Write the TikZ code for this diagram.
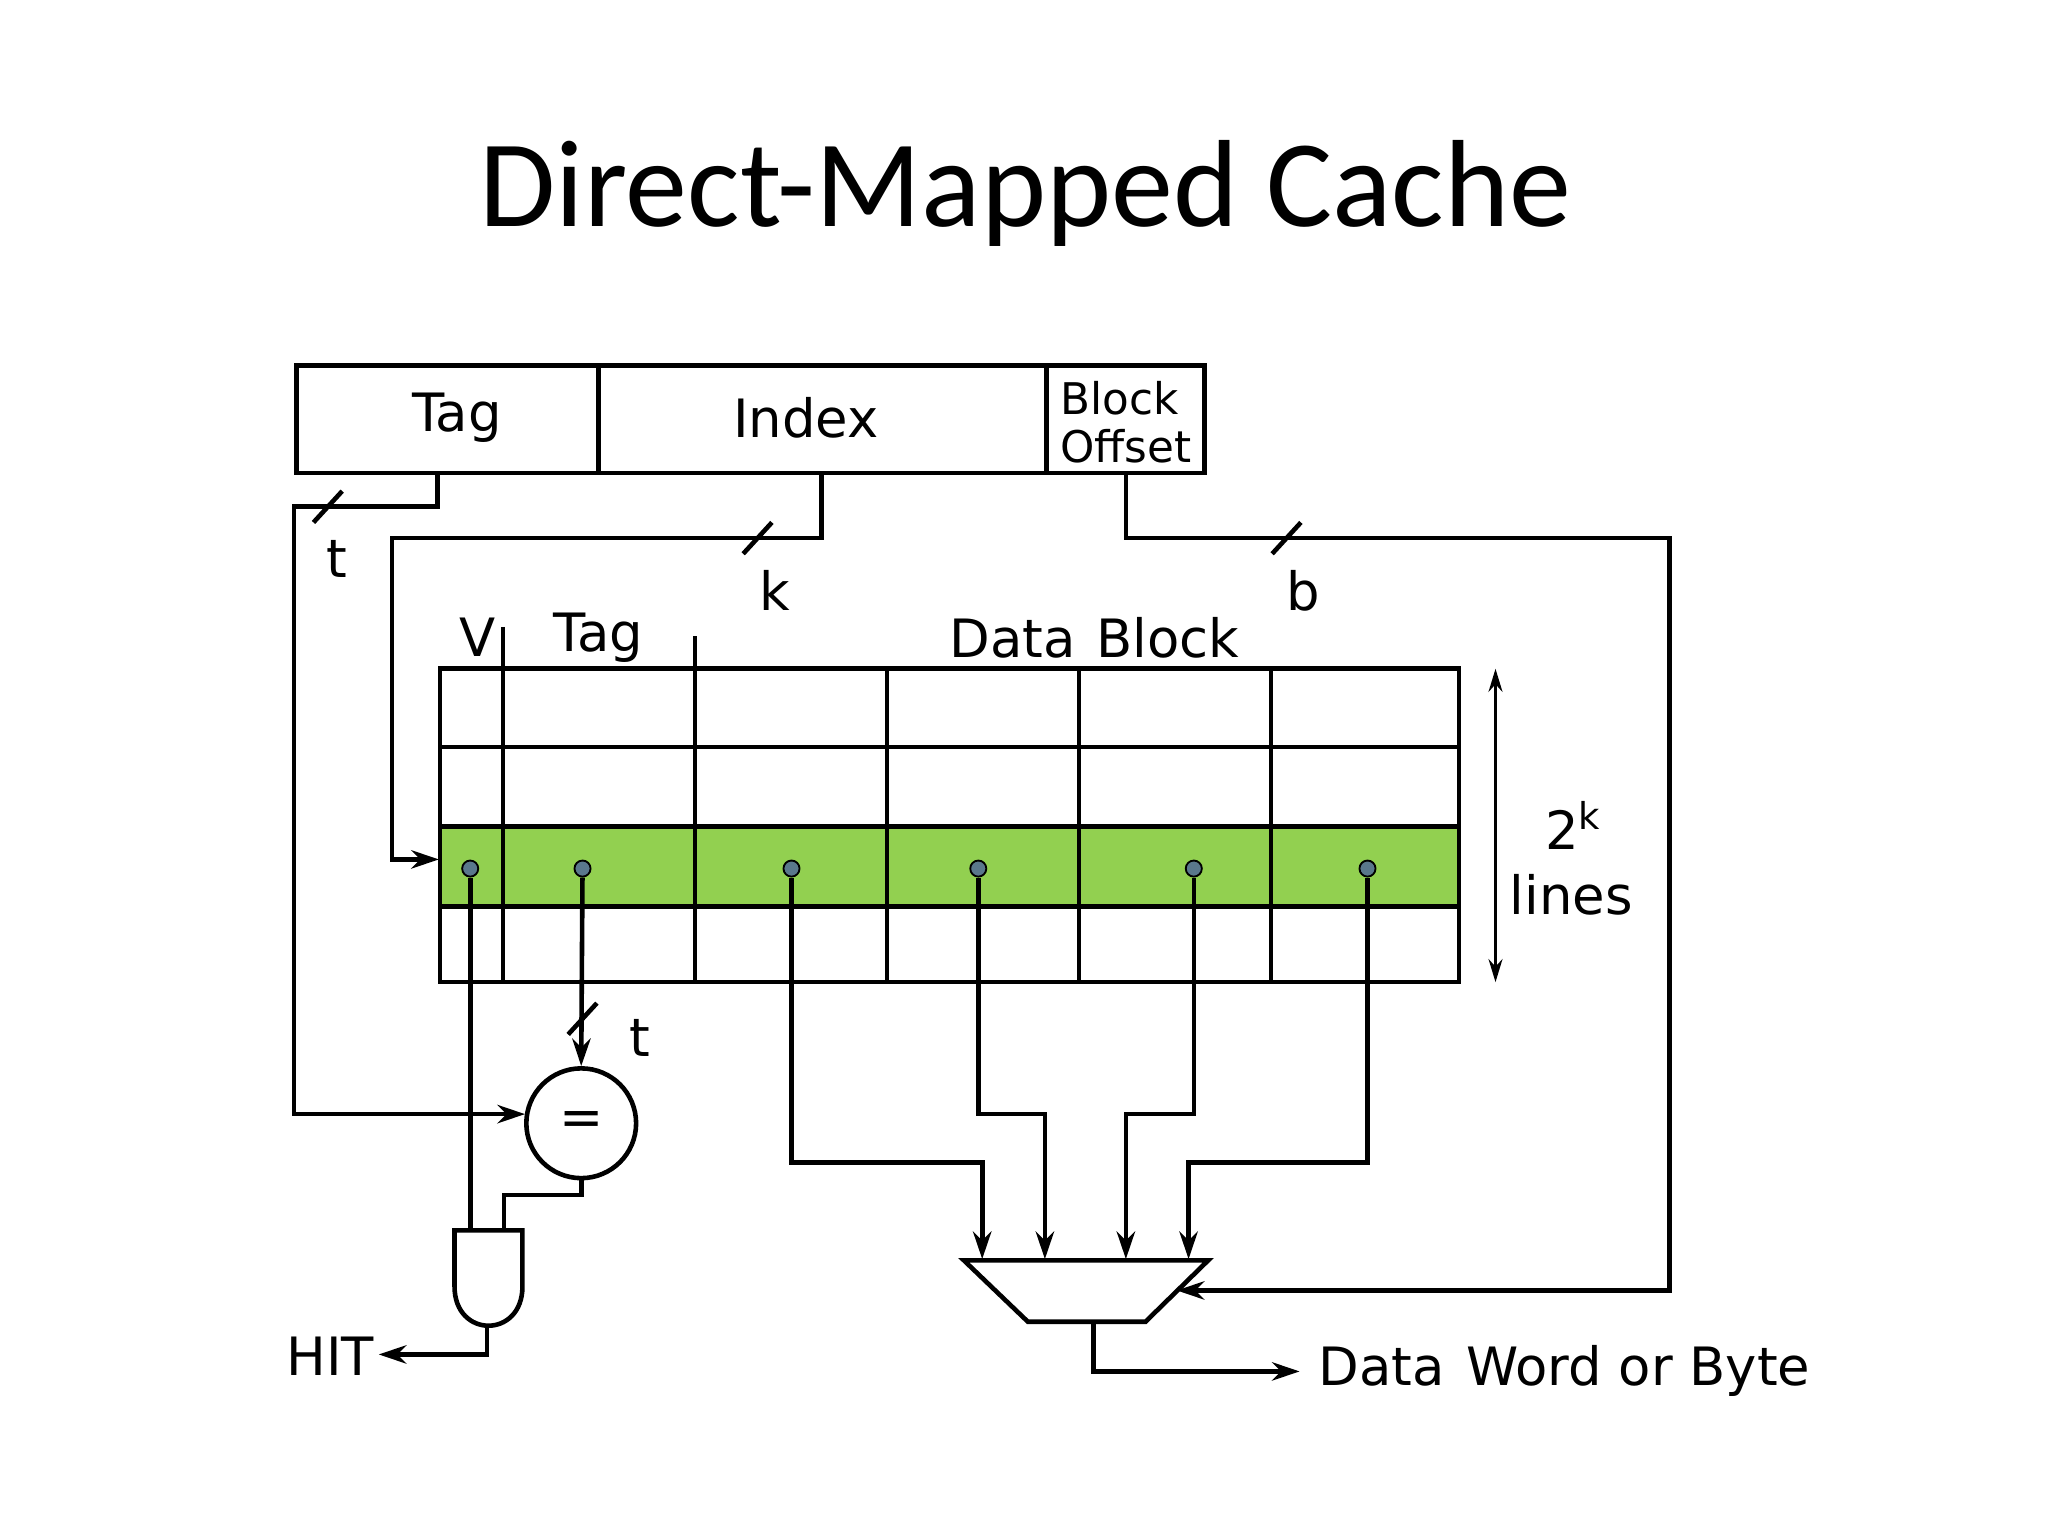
\documentclass[tikz,border=0pt]{standalone}
\usepackage{fontspec}
\setmainfont{DejaVu Sans}
\newfontfamily\titlefont{Carlito}
\usetikzlibrary{arrows.meta}
\definecolor{rowgreen}{RGB}{146,208,80}
\definecolor{dotcol}{RGB}{90,120,140}
\begin{document}
\begin{tikzpicture}[x=0.01cm,y=-0.01cm,line width=1pt,
  lbl/.style={inner sep=0pt,font=\fontsize{11.5}{14}\selectfont},
  arr/.style={-{Stealth[length=6pt,width=4pt]}},
  dot/.style={circle,fill=dotcol,draw=black,line width=0.4pt,inner sep=0pt,minimum size=3.5pt}]
\useasboundingbox (0,0) rectangle (1568,1176);
\fill[white] (0,0) rectangle (1568,1176);
\node[inner sep=0pt,font=\titlefont\fontsize{27}{32}\selectfont] (title) at (785,148) {Direct-Mapped Cache};
% address fields
\draw (227,280) rectangle (922,362);
\draw (458,280) -- (458,362) (801,280) -- (801,362);
\node[lbl] (ftag) at (350,320) {Tag};
\node[lbl] (find) at (617,320) {Index};
\node[lbl,align=left,font=\fontsize{9.5}{10.5}\selectfont] (foff) at (862,323) {Block\\Offset};
% cache array
\fill[rowgreen] (337,633) rectangle (1117,694);
\draw (337,512) rectangle (1117,752);
\foreach \y in {572,633,694} \draw (337,\y) -- (1117,\y);
\draw (385,480) -- (385,752);
\draw (532,487) -- (532,752);
\foreach \x in {679,826,973} \draw (\x,512) -- (\x,752);
\node[lbl] (lv) at (366,488) {V};
\node[lbl] (ltag) at (458,488) {Tag};
\node[lbl] (ldata) at (838,488) {Data\hspace{0.4em}Block};
\draw[{Stealth[length=5pt,width=3pt]}-{Stealth[length=5pt,width=3pt]},line width=0.8pt] (1145,512) -- (1145,752);
\node[lbl] (lk) at (1205,632) {2\textsuperscript{k}};
\node[lbl] (llines) at (1203,685) {lines};
% address wires
\draw[arr] (335,362) -- (335,388) -- (225,388) -- (225,853) -- (402,853);
\draw (240,400) -- (262,376);
\node[lbl] (st) at (258,428) {t};
\draw[arr] (629,362) -- (629,412) -- (300,412) -- (300,658) -- (336,658);
\draw (569,424) -- (591,400);
\node[lbl] (sk) at (593,452) {k};
\draw[arr] (862,362) -- (862,412) -- (1278,412) -- (1278,988) -- (901,988);
\draw (974,424) -- (996,400);
\node[lbl] (sb) at (998,452) {b};
% dots
\foreach \x/\n in {360/d1,446/d2,606/d3,749/d4,914/d5,1047/d6}
  \node[dot] (\n) at (\x,665) {};
% comparator
\node[draw,circle,inner sep=0pt,minimum size=0.84cm,font=\fontsize{11.5}{14}\selectfont] (cmp) at (445,860) {=};
\draw[arr] (d2) -- (cmp.north);
\draw (435,792) -- (457,768);
\node[lbl] (st2) at (490,795) {t};
% AND gate
\draw (348,942) -- (400,942) -- (400,985) .. controls (400,1025) and (348,1025) .. (348,985) -- cycle;
\coordinate (andout) at (373,1015);
\draw (d1) -- (360,942);
\draw (cmp.south) -- (445,915) -- (386,915) -- (386,942);
\draw[arr] (andout) -- (373,1037) -- (290,1037);
\node[lbl,anchor=east] (hit) at (288,1038) {HIT};
% mux
\draw (738,965) -- (925,965) -- (877,1012) -- (787,1012) -- cycle;
\draw[arr] (d3) -- (606,890) -- (752,890) -- (752,964);
\draw[arr] (d4) -- (749,853) -- (800,853) -- (800,964);
\draw[arr] (d5) -- (914,853) -- (862,853) -- (862,964);
\draw[arr] (d6) -- (1047,890) -- (910,890) -- (910,964);
\draw[arr] (837,1012) -- (837,1050) -- (995,1050);
\node[lbl,anchor=west] (out) at (1008,1050) {Data\hspace{0.4em}Word or Byte};
\end{tikzpicture}
\end{document}
